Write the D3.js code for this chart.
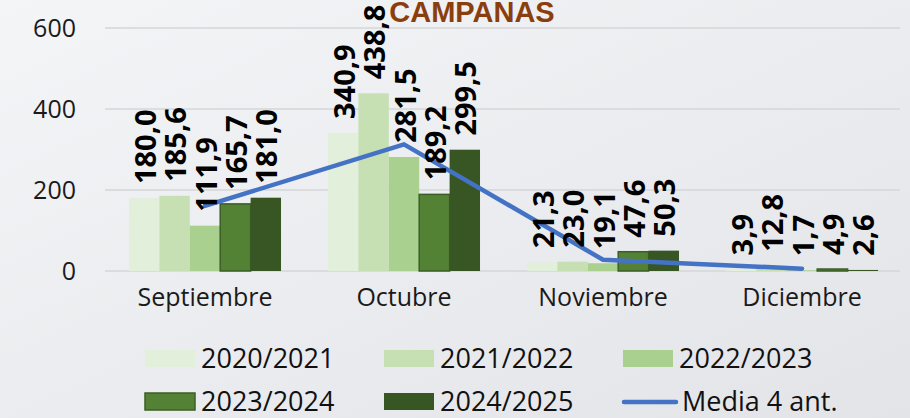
<!DOCTYPE html>
<meta charset="utf-8">
<style>
  body { margin: 0; }
  svg { display: block; }
</style>
<script src="https://d3js.org/d3.v7.min.js"></script>
<div id="chart"></div>
<script>

// data
var months = ["Septiembre", "Octubre", "Noviembre", "Diciembre"];
var seasons = ["2020/2021", "2021/2022", "2022/2023", "2023/2024", "2024/2025"];
var s2020 = [180.0, 340.9, 21.3, 3.9];
var s2021 = [185.6, 438.8, 23.0, 12.8];
var s2022 = [111.9, 281.5, 19.1, 1.7];
var s2023 = [165.7, 189.2, 47.6, 4.9];
var s2024 = [181.0, 299.5, 50.3, 2.6];
var media = [160.8, 312.6, 27.8, 5.8];
var mediaName = "Media 4 ant.";
var yTicks = [0, 200, 400, 600];
var title = "CAMPANAS";

var series = [s2020, s2021, s2022, s2023, s2024];
var colors = ["#E2EFDA", "#C6E0B4", "#A9D08E", "#548235", "#375623"];
var strokes = ["none", "none", "none", "#3B5E26", "none"];

var W = 910, H = 418;
var font = "'Open Sans', sans-serif";

var svg = d3.select("#chart").append("svg")
    .attr("width", W)
    .attr("height", H);

// soft grey background
var grad = svg.append("defs").append("linearGradient")
    .attr("id", "bg").attr("x1", "0").attr("y1", "0").attr("x2", "1").attr("y2", "1");
grad.append("stop").attr("offset", "0%").attr("stop-color", "#F4F5F7");
grad.append("stop").attr("offset", "100%").attr("stop-color", "#E3E4E8");
svg.append("rect").attr("width", W).attr("height", H).attr("fill", "url(#bg)");

// scales
var x = d3.scaleBand()
    .domain(months)
    .range([105.5, 901.5])
    .paddingInner(0.236)
    .paddingOuter(0.118);

var xs = d3.scaleBand()
    .domain(d3.range(seasons.length))
    .range([0, x.bandwidth()]);

var y = d3.scaleLinear()
    .domain([0, 600])
    .range([271, 28]);

// gridlines
svg.append("g")
  .selectAll("line")
  .data(yTicks)
  .enter().append("line")
    .attr("x1", 105).attr("x2", 900)
    .attr("y1", function(d) { return y(d); })
    .attr("y2", function(d) { return y(d); })
    .attr("stroke", "#D6D6D8")
    .attr("stroke-width", 1.5);

// y axis labels
var yAxis = svg.append("g")
    .attr("transform", "translate(96,0)")
    .call(d3.axisLeft(y).tickValues(yTicks).tickSize(0).tickPadding(20));
yAxis.select(".domain").remove();
yAxis.selectAll("text")
    .attr("font-family", font)
    .attr("font-size", 25)
    .attr("fill", "#1a1a1a");

// x axis labels
var xAxis = svg.append("g")
    .attr("transform", "translate(0,280)")
    .call(d3.axisBottom(x).tickSize(0).tickPadding(8));
xAxis.select(".domain").remove();
xAxis.selectAll("text")
    .attr("font-family", font)
    .attr("font-size", 25)
    .attr("fill", "#1a1a1a");

// title
svg.append("text")
    .attr("x", 472)
    .attr("y", 22)
    .attr("text-anchor", "middle")
    .attr("font-family", "'Liberation Sans', Arial, sans-serif")
    .attr("font-weight", "bold")
    .attr("font-size", 29)
    .attr("fill", "#8B3E0D")
    .text(title);

// bars
series.forEach(function(vals, i) {
  svg.append("g")
    .selectAll("rect")
    .data(vals)
    .enter().append("rect")
      .attr("x", function(d, j) { return x(months[j]) + xs(i); })
      .attr("y", function(d) { return y(d); })
      .attr("width", xs.bandwidth())
      .attr("height", function(d) { return y(0) - y(d); })
      .attr("fill", colors[i])
      .attr("stroke", strokes[i])
      .attr("stroke-width", 1.5);
});

// media line
var line = d3.line()
    .x(function(d, j) { return x(months[j]) + x.bandwidth() / 2; })
    .y(function(d) { return y(d); });

svg.append("path")
    .datum(media)
    .attr("d", line)
    .attr("fill", "none")
    .attr("stroke", "#4472C4")
    .attr("stroke-width", 4.5)
    .attr("stroke-linecap", "round")
    .attr("stroke-linejoin", "miter");

// data labels
var fmt = function(v) { return d3.format(".1f")(v).replace(".", ","); };
series.forEach(function(vals, i) {
  svg.append("g")
    .selectAll("text")
    .data(vals)
    .enter().append("text")
      .attr("transform", function(d, j) {
        var cx = x(months[j]) + xs(i) + xs.bandwidth() / 2;
        return "translate(" + cx + "," + (y(d) - 14) + ") rotate(-90)";
      })
      .attr("dominant-baseline", "central")
      .attr("font-family", font)
      .attr("font-weight", "bold")
      .attr("font-size", 29)
      .attr("fill", "#000")
      .text(fmt);
});

// legend
var legendItems = seasons.map(function(s, i) { return {name: s, i: i}; });
legendItems.push({name: mediaName, i: -1});
var legX = [145, 384, 623];
var legY = [350, 393];

var leg = svg.append("g")
  .selectAll("g")
  .data(legendItems)
  .enter().append("g")
    .attr("transform", function(d, k) {
      return "translate(" + legX[k % 3] + "," + legY[Math.floor(k / 3)] + ")";
    });

leg.filter(function(d) { return d.i >= 0; })
  .append("rect")
    .attr("width", 50)
    .attr("height", 17)
    .attr("fill", function(d) { return colors[d.i]; })
    .attr("stroke", function(d) { return strokes[d.i]; })
    .attr("stroke-width", 1.5);

leg.filter(function(d) { return d.i < 0; })
  .append("line")
    .attr("x1", 1).attr("x2", 53)
    .attr("y1", 9).attr("y2", 9)
    .attr("stroke", "#4472C4")
    .attr("stroke-width", 4.5)
    .attr("stroke-linecap", "round");

leg.append("text")
    .attr("x", function(d) { return d.i < 0 ? 59 : 56; })
    .attr("y", 18)
    .attr("font-family", font)
    .attr("font-size", 27)
    .attr("fill", "#111")
    .text(function(d) { return d.name; });

</script>
